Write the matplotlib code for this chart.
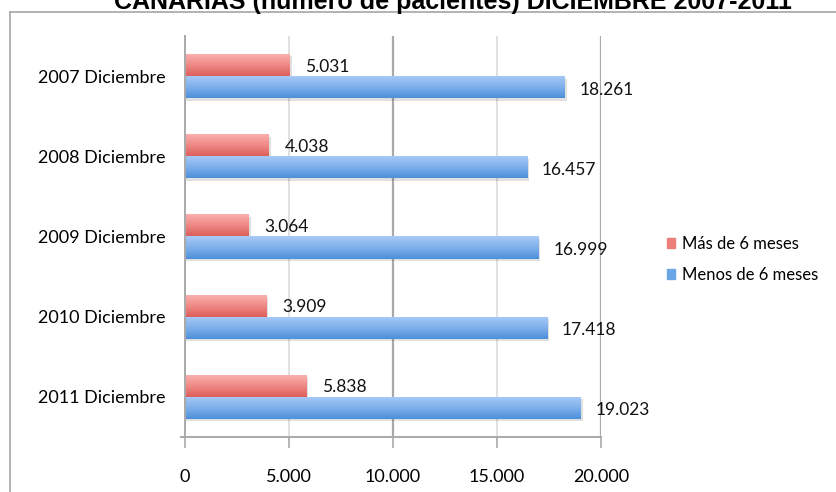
import matplotlib
matplotlib.use("Agg")
import matplotlib.pyplot as plt
import numpy as np
from matplotlib.colors import LinearSegmentedColormap
from matplotlib.lines import Line2D
from matplotlib.patches import Rectangle

categories = ["2007 Diciembre", "2008 Diciembre", "2009 Diciembre", "2010 Diciembre", "2011 Diciembre"]
mas_6 = [5031, 4038, 3064, 3909, 5838]
menos_6 = [18261, 16457, 16999, 17418, 19023]
series_names = ["Más de 6 meses", "Menos de 6 meses"]
xticks = [0, 5000, 10000, 15000, 20000]
title = "CANARIAS (número de pacientes) DICIEMBRE 2007-2011"

FONT = ["Lato", "DejaVu Sans"]
W, H = 837, 492
fig = plt.figure(figsize=(W / 100, H / 100), dpi=100)

def fx(px):
    return px / W

def fy(py):
    return 1 - py / H

# outer chart border (only top/left visible)
fig.add_artist(Line2D([fx(10), fx(837)], [fy(12), fy(12)], color="#a6a6a6", lw=1.2))
fig.add_artist(Line2D([fx(10), fx(10)], [fy(12), fy(492)], color="#a6a6a6", lw=1.2))

fig.text(fx(453), fy(9), title, ha="center", va="baseline", fontsize=18,
         fontweight="bold", family=["Liberation Sans", "DejaVu Sans"])

ax = fig.add_axes([fx(185), fy(437), fx(601) - fx(185), fy(36) - fy(437)])
ax.set_xlim(0, 20000)
n = len(categories)
ax.set_ylim(n - 0.5, -0.5)

# gridlines
for xv in xticks[1:]:
    dark = xv % 10000 == 0
    ax.axvline(xv, color="#a9a9a9" if dark else "#dedede", lw=1.6 if dark else 1.3, zorder=0)

bh = 0.275
ypos = np.arange(n)
red_cmap = LinearSegmentedColormap.from_list("r", ["#fbb3b1", "#f08b88", "#dc5f5a"])
blue_cmap = LinearSegmentedColormap.from_list("b", ["#a9cbf7", "#7fb0ec", "#4d8fda"])

def grad_bars(bars, cmap):
    for b in bars:
        x0, y0 = b.get_x(), b.get_y()
        w, h = b.get_width(), b.get_height()
        # shadow
        ax.add_patch(Rectangle((x0, y0 + 0.03), w + 90, h, color="#000000", alpha=0.12, zorder=1, lw=0))
        grad = np.linspace(0, 1, 64).reshape(-1, 1)
        im = ax.imshow(grad, cmap=cmap, aspect="auto", extent=(x0, x0 + w, y0 + h, y0),
                       zorder=2, interpolation="bicubic")
        im.set_clip_path(b)
        b.set_facecolor("none")

red_bars = ax.barh(ypos - bh / 2, mas_6, height=bh, color="#e8706c", lw=0, zorder=2, label=series_names[0])
blue_bars = ax.barh(ypos + bh / 2, menos_6, height=bh, color="#5b9be0", lw=0, zorder=2, label=series_names[1])
grad_bars(red_bars, red_cmap)
grad_bars(blue_bars, blue_cmap)
ax.set_xlim(0, 20000)
ax.set_ylim(n - 0.5, -0.5)

def fmt(v):
    return f"{v:,}".replace(",", ".")

for i in range(n):
    ax.text(mas_6[i] + 750, ypos[i] - bh / 2 + 0.02, fmt(mas_6[i]), va="center", ha="left",
            fontsize=12.5, family=FONT, color="#111111", zorder=5)
    ax.text(menos_6[i] + 700, ypos[i] + bh / 2 + 0.03, fmt(menos_6[i]), va="center", ha="left",
            fontsize=12.5, family=FONT, color="#111111", zorder=5)

ax.set_yticks(ypos)
ax.set_yticklabels(categories, family=FONT, fontsize=13)
ax.tick_params(axis="y", length=0, pad=14)
ax.set_xticks(xticks)
ax.set_xticklabels([fmt(v) for v in xticks], family=FONT, fontsize=13)
ax.tick_params(axis="x", length=8, width=1.2, color="#a9a9a9", pad=15)

for s in ["top", "right"]:
    ax.spines[s].set_visible(False)
ax.spines["left"].set_color("#a9a9a9")
ax.spines["left"].set_linewidth(1.4)
ax.spines["bottom"].set_color("#a9a9a9")
ax.spines["bottom"].set_linewidth(1.4)
ax.spines["bottom"].set_bounds(-200, 20000)
ax.set_facecolor("none")

# legend
leg_handles = [Rectangle((0, 0), 1, 1, color="#ec7f7b"), Rectangle((0, 0), 1, 1, color="#6aa5e6")]
fig.legend(leg_handles, series_names, loc="upper left", bbox_to_anchor=(fx(652), fy(221)),
           frameon=False, prop={"family": FONT, "size": 12}, handlelength=0.5, handleheight=0.5,
           handletextpad=0.4, labelspacing=0.9)

fig.savefig("out.png", dpi=100)
